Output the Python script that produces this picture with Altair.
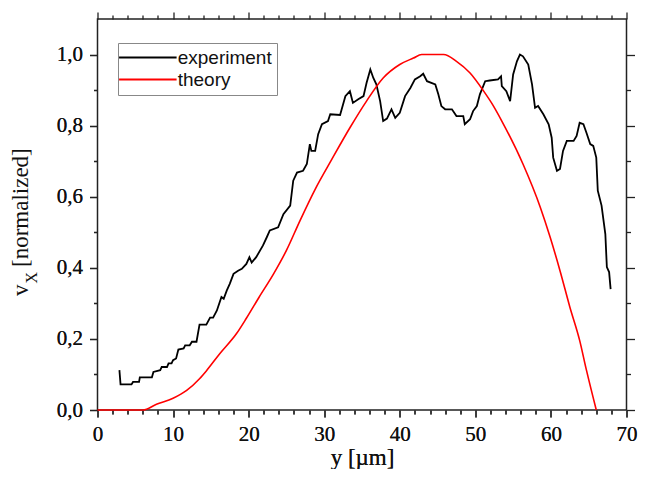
import altair as alt
import pandas as pd

# ---- data ----
exp_x = [2.9, 3.05, 4.5, 4.7, 5.5, 5.6, 7.2, 7.4, 8.3, 8.5, 9.2, 9.4, 9.8, 10.0, 10.4, 10.7,
         11.4, 11.6, 12.2, 12.5, 13.1, 13.5, 14.4, 14.9, 15.3, 15.8, 16.4, 16.7, 17.1, 17.5,
         18.0, 18.6, 19.1, 19.7, 20.1, 20.4, 21.0, 21.9, 22.4, 22.8, 23.9, 24.6, 25.5, 25.9,
         26.4, 27.2, 27.7, 28.1, 28.3, 28.8, 29.2, 29.7, 30.5, 30.8, 32.1, 32.8, 33.4, 33.8,
         34.5, 35.2, 35.6, 36.1, 36.5, 36.9, 37.4, 37.8, 38.3, 38.9, 39.4, 40.0, 40.7, 41.4,
         42.0, 42.7, 43.1, 43.6, 44.7, 45.1, 45.5, 46.0, 46.9, 47.5, 48.4, 48.6, 49.3, 49.7,
         50.2, 50.6, 51.3, 51.9, 53.0, 53.4, 53.5, 54.1, 54.6, 55.0, 55.5, 55.9, 56.3, 57.0,
         57.5, 57.9, 58.3, 59.0, 59.7, 60.1, 60.3, 60.8, 61.2, 61.6, 62.1, 63.0, 63.4, 63.8,
         64.3, 64.7, 65.2, 65.6, 66.0, 66.2, 66.7, 67.2, 67.4, 67.7, 67.9]
exp_v = [0.112, 0.072, 0.072, 0.079, 0.079, 0.092, 0.092, 0.107, 0.112, 0.121, 0.121, 0.131,
         0.131, 0.140, 0.145, 0.170, 0.173, 0.182, 0.182, 0.192, 0.192, 0.240, 0.240, 0.260,
         0.260, 0.280, 0.318, 0.313, 0.336, 0.355, 0.383, 0.392, 0.397, 0.411, 0.430, 0.415,
         0.430, 0.463, 0.486, 0.505, 0.514, 0.551, 0.575, 0.645, 0.668, 0.673, 0.692, 0.748,
         0.729, 0.729, 0.776, 0.804, 0.813, 0.832, 0.830, 0.883, 0.897, 0.864, 0.874, 0.883,
         0.920, 0.958, 0.934, 0.916, 0.869, 0.813, 0.820, 0.846, 0.822, 0.836, 0.883, 0.906,
         0.930, 0.939, 0.946, 0.925, 0.916, 0.888, 0.855, 0.846, 0.846, 0.827, 0.827, 0.804,
         0.818, 0.841, 0.855, 0.888, 0.925, 0.927, 0.930, 0.939, 0.911, 0.897, 0.869, 0.944,
         0.981, 1.000, 0.995, 0.972, 0.916, 0.850, 0.855, 0.832, 0.804, 0.766, 0.710, 0.673,
         0.678, 0.729, 0.757, 0.757, 0.771, 0.808, 0.804, 0.780, 0.748, 0.743, 0.710, 0.617,
         0.575, 0.495, 0.402, 0.388, 0.340]

th_x = [0.0, 6.0, 7.8, 10.0, 11.8, 13.5, 14.4, 16.2, 18.4, 19.7, 21.4, 23.3, 25.0, 26.8,
        28.8, 31.0, 33.4, 35.6, 37.8, 40.0, 41.8, 42.9, 45.8, 47.5, 49.3, 51.1, 52.4, 53.5,
        56.3, 58.6, 59.9, 61.2, 62.5, 63.8, 64.7, 66.0]
th_v = [0.0, 0.0, 0.016, 0.033, 0.055, 0.088, 0.110, 0.159, 0.215, 0.258, 0.318, 0.383,
        0.449, 0.533, 0.621, 0.705, 0.794, 0.869, 0.934, 0.972, 0.990, 1.0, 1.0, 0.981,
        0.948, 0.897, 0.855, 0.813, 0.692, 0.570, 0.486, 0.392, 0.290, 0.196, 0.112, 0.0]

series_names = ["experiment", "theory"]
series_colors = ["#000000", "#ff0000"]

x_tick_values = list(range(0, 71, 2))
y_tick_values = [round(i * 0.1, 1) for i in range(0, 11)]

x_title = "y [µm]"
y_title_parts = ["v", "X", "[normalized]"]

exp_df = pd.DataFrame({"x": exp_x, "v": exp_v, "series": series_names[0]})
th_df = pd.DataFrame({"x": th_x, "v": th_v, "series": series_names[1]})
df = pd.concat([exp_df, th_df], ignore_index=True)

SERIF = "Liberation Serif"
SANS = "Liberation Sans"
AX = "#222222"

x_scale = alt.Scale(domain=[0, 70], nice=False, zero=False)
y_scale = alt.Scale(domain=[0, 1.1], nice=False, zero=False)
color_scale = alt.Scale(domain=series_names, range=series_colors)

x_tick_size = {"condition": {"test": "datum.value % 10 === 0", "value": 7}, "value": 4}
y_tick_size = {"condition": {"test": "round(datum.value * 10) % 2 === 0", "value": 8}, "value": 4}

common_axis = dict(grid=False, domain=False, tickColor=AX, tickWidth=1.3,
                   labelFont=SERIF, labelFontSize=21, labelColor="#111111",
                   labelOverlap=False, labelFlush=False)

x_main = alt.X("x:Q", scale=x_scale, axis=alt.Axis(
    orient="bottom", values=x_tick_values, tickSize=x_tick_size,
    labelExpr="datum.value % 10 === 0 ? datum.label : ''", labelPadding=6,
    title=x_title, titleFont=SERIF, titleFontSize=23, titleFontWeight="normal",
    titleColor="#111111", titleBaseline="alphabetic", titleY=54, **common_axis))
y_main = alt.Y("v:Q", scale=y_scale, axis=alt.Axis(
    orient="left", values=y_tick_values, tickSize=y_tick_size,
    labelExpr="round(datum.value * 10) % 2 === 0 ? replace(format(datum.value, '.1f'), '.', ',') : ''",
    labelPadding=7, title=None, **common_axis))
color_enc = alt.Color("series:N", scale=color_scale,
                      legend=alt.Legend(title=None, orient="none", legendX=20.5, legendY=24,
                                        symbolType="M-1.92,0L6.3,0", symbolSize=196,
                                        symbolStrokeWidth=1.8, labelFont=SANS, labelFontSize=19,
                                        labelColor="#111111", labelOffset=35.7, padding=5,
                                        rowPadding=2, strokeColor="#888888", fillColor="#ffffff"))

exp_line = alt.Chart(exp_df).mark_line(strokeWidth=1.8, interpolate="linear").encode(
    x=x_main, y=y_main, color=color_enc)
th_line = alt.Chart(th_df).mark_line(strokeWidth=1.6, interpolate="monotone").encode(
    x=x_main, y=y_main, color=color_enc)

mirror = alt.Chart(df).mark_line(strokeOpacity=0).encode(
    x=alt.X("x:Q", scale=x_scale, axis=alt.Axis(
        orient="top", values=x_tick_values, tickSize=x_tick_size, labels=False,
        title=None, **common_axis)),
    y=alt.Y("v:Q", scale=y_scale, axis=alt.Axis(
        orient="right", values=y_tick_values, tickSize=y_tick_size, labels=False,
        title=None, **common_axis)),
    detail="series:N",
)

t_v = alt.Chart(pd.DataFrame({"t": [y_title_parts[0]]})).mark_text(
    font=SERIF, fontSize=23, angle=270, align="left", baseline="alphabetic", color="#111111"
).encode(text="t:N", x=alt.value(-69.5), y=alt.value(277))
t_x = alt.Chart(pd.DataFrame({"t": [y_title_parts[1]]})).mark_text(
    font=SERIF, fontSize=16, angle=270, align="left", baseline="alphabetic", color="#111111"
).encode(text="t:N", x=alt.value(-60.5), y=alt.value(264.5))
t_n = alt.Chart(pd.DataFrame({"t": [y_title_parts[2]]})).mark_text(
    font=SERIF, fontSize=23, angle=270, align="left", baseline="alphabetic", color="#111111"
).encode(text="t:N", x=alt.value(-69.5), y=alt.value(248))

chart = alt.layer(exp_line, th_line, mirror, t_v, t_x, t_n).resolve_axis(
    x="independent", y="independent"
).properties(
    width=529, height=391,
    autosize=alt.AutoSizeParams(type="none"),
    padding={"left": 89.5, "top": 11, "right": 12, "bottom": 59},
    background="#ffffff",
).configure_view(stroke=AX, strokeWidth=1.5)

chart.save("out.html", embed_options={"renderer": "svg", "actions": False})
